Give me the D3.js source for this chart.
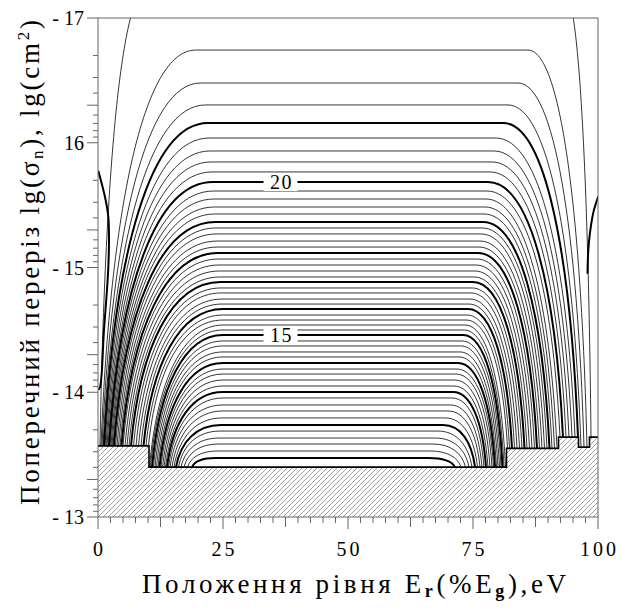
<!DOCTYPE html>
<html><head><meta charset="utf-8">
<script src="https://cdn.jsdelivr.net/npm/d3@7"></script>
<style>body{margin:0;background:#fff} text{font-family:"Liberation Serif","DejaVu Serif","Times New Roman",serif}</style>
</head><body><svg id="c" width="622" height="608"></svg>
<script>
// contour levels (bold = integer)
const levels = [11.0,11.2,11.4,11.6,11.8,12.0,12.2,12.4,12.6,12.8,13.0,13.2,13.4,13.6,13.8,14.0,14.2,14.4,14.6,14.8,15.0,15.2,15.4,15.6,15.8,16.0,16.2,16.4,16.6,16.8,17.0,17.2,17.4,17.6,17.8,18.0,18.2,18.4,18.6,18.8,19.0,19.2,19.4,19.6,19.8,20.0,20.2,20.4,20.6,20.8,21.0,21.2,21.4,21.6,21.8];
// lg(sigma) of the flat (middle) part of every contour
const flatY = [-13.473,-13.529,-13.585,-13.633,-13.689,-13.737,-13.794,-13.850,-13.898,-13.954,-14.002,-14.050,-14.098,-14.146,-14.186,-14.234,-14.283,-14.323,-14.371,-14.411,-14.459,-14.499,-14.539,-14.579,-14.619,-14.667,-14.707,-14.747,-14.796,-14.836,-14.884,-14.924,-14.972,-15.020,-15.068,-15.116,-15.164,-15.212,-15.269,-15.317,-15.365,-15.429,-15.485,-15.549,-15.613,-15.685,-15.766,-15.846,-15.934,-16.038,-16.158,-16.303,-16.479,-16.743,-17.25];
// where each contour meets the hatched boundary (left / right), %Eg
const leftFootX = [18.8,17.9,17.2,16.6,16.1,15.6,15.2,14.8,14.4,14.1,13.8,13.5,13.2,12.9,12.6,12.3,12.0,11.7,11.4,11.1,10.8,10.5,10.3,10.1,9.6,9.1,8.6,8.1,7.6,7.1,6.6,6.2,5.8,5.4,5.0,4.7,4.4,4.1,3.8,3.5,3.2,3.0,2.8,2.6,2.4,2.2,2.0,1.8,1.6,1.4,1.2,1.0,0.8,0.6,0.4];
const rightFootX = [71.4,72.6,73.5,74.2,74.8,75.4,75.9,76.4,76.8,77.2,77.6,78.0,78.4,78.8,79.1,79.4,79.7,80.0,80.3,80.6,80.9,81.2,81.5,81.9,82.3,82.8,83.3,83.8,84.3,84.8,85.3,85.8,86.3,86.8,87.3,87.8,88.3,88.8,89.3,89.8,90.3,90.8,91.3,91.8,92.4,93.0,93.6,94.2,94.8,95.4,96.0,96.6,97.2,97.8,98.6];
// where each contour becomes flat (left / right), %Eg
const leftKneeX = [23.5,23.8,24,24.2,24.4,24.6,24.8,25,25,25,25,25,25,25,25,25,25,25,25,25,25,25,25,25,25,25,24.8,24.8,24.6,24.6,24.5,24.4,24.3,24.2,24.1,24,23.9,23.8,23.7,23.6,23.5,23.4,23.3,23.2,23.1,23,22.8,22.6,22.4,22.2,22,21.5,20.5,19.5,10];
const rightKneeX = [66,66.5,67,67.5,68,69,69.5,70,70.5,70.8,71,71.2,71.4,71.6,71.8,72,72.2,72.4,72.6,72.8,73,73.2,73.4,73.6,73.8,74,74.2,74.4,74.6,74.8,75,75.2,75.4,75.6,75.8,76,76.2,76.4,76.6,76.8,77,77.2,77.4,77.6,77.8,78,78.4,78.8,79.2,79.6,81,82,84,86,93];
// hatched (forbidden) region top boundary
const hatchX = [0,10.2,10.2,81.7,81.7,92.1,92.1,96.1,96.1,98.3,98.3,100];
const hatchY = [-13.57,-13.57,-13.40,-13.40,-13.55,-13.55,-13.64,-13.64,-13.56,-13.56,-13.64,-13.64];
// bold edge contours
const leftEdgeX = [0.06,1.4,2.06,2.2,2.0,1.2,0.4,0.06];
const leftEdgeY = [-15.776,-15.565,-15.407,-15.22,-14.95,-14.5,-14.04,-14.02];
const rightEdgeX = [100.06,99.06,98.4,98.06,97.9];
const rightEdgeY = [-15.57,-15.44,-15.28,-15.14,-14.95];
const labeledLevels = [15,20];
const labelX = 36.5;
const xTicks = [0,25,50,75,100];
const yTicks = [-13,-14,-15,-16,-17];
const yTickLabels = ["- 13","- 14","- 15","16","- 17"];

const svg = d3.select("#c");
const x = d3.scaleLinear().domain([0,100]).range([98,598]);
const y = d3.scaleLinear().domain([-13,-17]).range([517,18]);

svg.append("defs").append("clipPath").attr("id","clip")
  .append("rect").attr("x",x(0)).attr("y",y(-17)).attr("width",x(100)-x(0)).attr("height",y(-13)-y(-17));
const pat = svg.select("defs").append("pattern").attr("id","hatch").attr("patternUnits","userSpaceOnUse")
  .attr("width",5).attr("height",5);
pat.append("path").attr("d","M-1,6 L6,-1 M-1,1 L1,-1 M4,6 L6,4").attr("stroke","#777").attr("stroke-width",0.7);

function hatchTop(xv){
  for(let i=0;i<hatchX.length-1;i++){
    if(xv>=hatchX[i] && xv<=hatchX[i+1] && hatchX[i]!==hatchX[i+1]) return hatchY[i];
  }
  return hatchY[hatchY.length-1];
}

const g = svg.append("g").attr("clip-path","url(#clip)");

// contours
const a=0.1,b=0.6,c=0.45;
levels.forEach((lv,i)=>{
  const xf=x(leftFootX[i]), yf=y(hatchTop(leftFootX[i]));
  const xk=x(leftKneeX[i]), yk=y(flatY[i]);
  const xr=x(rightFootX[i]), yr=y(hatchTop(rightFootX[i]));
  const xkr=x(rightKneeX[i]);
  const p=d3.path();
  p.moveTo(xf,yf);
  p.bezierCurveTo(xf+a*(xk-xf), yf-b*(yf-yk), xf+c*(xk-xf), yk, xk, yk);
  p.lineTo(xkr,yk);
  p.bezierCurveTo(xr-c*(xr-xkr), yk, xr-a*(xr-xkr), yr-b*(yr-yk), xr, yr);
  const bold = Math.abs(lv-Math.round(lv))<1e-6;
  g.append("path").attr("d",p.toString()).attr("fill","none")
    .attr("stroke","#000").attr("stroke-width",bold?2:0.8);
});

const edgeLine = d3.line().x(d=>x(d[0])).y(d=>y(d[1])).curve(d3.curveCatmullRom);
g.append("path").attr("d",edgeLine(d3.zip(leftEdgeX,leftEdgeY))).attr("fill","none").attr("stroke","#000").attr("stroke-width",2);
g.append("path").attr("d",edgeLine(d3.zip(rightEdgeX,rightEdgeY))).attr("fill","none").attr("stroke","#000").attr("stroke-width",2);

// hatched region
const area = d3.area().x(d=>x(d[0])).y0(y(-13)).y1(d=>y(d[1]));
g.append("path").attr("d",area(d3.zip(hatchX,hatchY))).attr("fill","#fff");
g.append("path").attr("d",area(d3.zip(hatchX,hatchY))).attr("fill","url(#hatch)");
g.append("path").attr("d",d3.line().x(d=>x(d[0])).y(d=>y(d[1]))(d3.zip(hatchX,hatchY)))
  .attr("fill","none").attr("stroke","#000").attr("stroke-width",1.6);

// contour labels
labeledLevels.forEach(lv=>{
  const i = levels.findIndex(v=>Math.abs(v-lv)<1e-6);
  const cx=x(labelX), cy=y(flatY[i]);
  svg.append("rect").attr("x",cx-17).attr("y",cy-9).attr("width",34).attr("height",18).attr("fill","#fff");
  svg.append("text").attr("x",cx+1).attr("y",cy+7).attr("text-anchor","middle")
    .attr("font-size",20).attr("letter-spacing",1.5).text(String(lv));
});

// frame
svg.append("rect").attr("x",x(0)).attr("y",y(-17)).attr("width",x(100)-x(0)).attr("height",y(-13)-y(-17))
  .attr("fill","none").attr("stroke","#666").attr("stroke-width",1);

// ticks
const ax = svg.append("g").attr("stroke","#666").attr("stroke-width",1);
yTicks.forEach(v=>{ ax.append("line").attr("x1",x(0)-11).attr("x2",x(0)).attr("y1",y(v)).attr("y2",y(v)); });
[-17,-16,-15,-14].forEach(d=>{
  d3.range(2,10).forEach(k=>{
    const v=d+Math.log10(k);
    ax.append("line").attr("x1",x(0)-(k===5?11:5)).attr("x2",x(0)).attr("y1",y(v)).attr("y2",y(v));
  });
});
d3.range(0,100.01,2.5).forEach(v=>{
  const len = (v%25===0)?12:((v%12.5===0)?10:6);
  ax.append("line").attr("x1",x(v)).attr("x2",x(v)).attr("y1",y(-13)).attr("y2",y(-13)+len);
});

// tick labels
yTicks.forEach((v,i)=>{
  svg.append("text").attr("x",x(0)-14).attr("y",y(v)+7).attr("text-anchor","end")
    .attr("font-size",20).text(yTickLabels[i]);
});
xTicks.forEach(v=>{
  svg.append("text").attr("x",x(v)+1.5).attr("y",556).attr("text-anchor","middle")
    .attr("font-size",20).attr("letter-spacing",3).text(String(v));
});

// axis titles
const xt = svg.append("text").attr("x",142).attr("y",593).attr("font-size",27)
  .attr("textLength",424).attr("lengthAdjust","spacing");
xt.append("tspan").text("Положення рівня E");
xt.append("tspan").attr("font-size",18).attr("font-weight","bold").attr("dy",4).text("r");
xt.append("tspan").attr("dy",-4).text("(%E");
xt.append("tspan").attr("font-size",18).attr("font-weight","bold").attr("dy",4).text("g");
xt.append("tspan").attr("dy",-4).text("),eV");

const yt = svg.append("text").attr("transform","translate(39,505) rotate(-90)").attr("font-size",27)
  .attr("textLength",485).attr("lengthAdjust","spacing");
yt.append("tspan").text("Поперечний переріз lg(σ");
yt.append("tspan").attr("font-size",17).attr("dy",4).text("n");
yt.append("tspan").attr("dy",-4).text("), lg(cm");
yt.append("tspan").attr("font-size",17).attr("dy",-10).text("2");
yt.append("tspan").attr("dy",10).text(")");
</script>
</body></html>
